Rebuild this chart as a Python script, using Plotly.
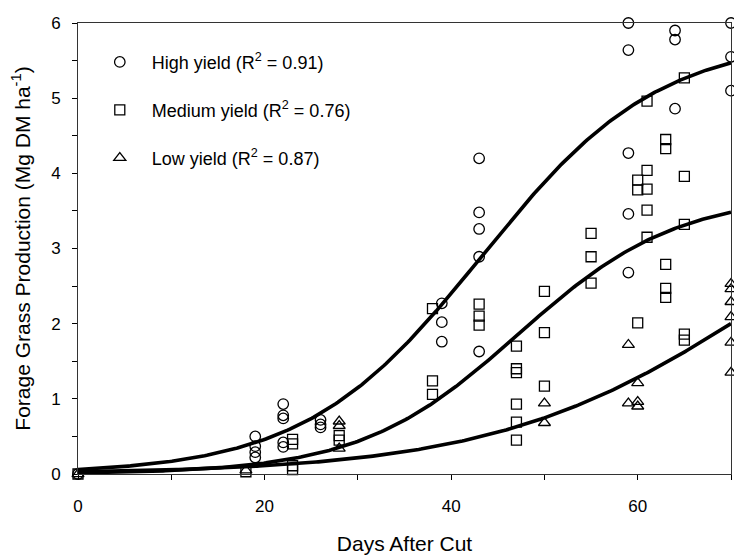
import numpy as np
import plotly.graph_objects as go

# Observed forage production (Mg DM/ha) by days after cut
days_high = [0, 19, 19, 19, 19, 22, 22, 22, 22, 22, 26, 26, 26, 39, 39, 39,
             43, 43, 43, 43, 43, 59, 59, 59, 59, 59, 64, 64, 64, 70, 70, 70]
prod_high = [0, 0.50, 0.37, 0.29, 0.22, 0.93, 0.78, 0.74, 0.42, 0.36, 0.72, 0.66, 0.62,
             2.27, 2.02, 1.76, 4.20, 3.48, 3.26, 2.89, 1.63, 6.00, 5.64, 4.27, 3.46, 2.68,
             5.90, 5.78, 4.86, 6.00, 5.55, 5.10]

days_med = [0, 18, 23, 23, 23, 23, 28, 28, 38, 38, 38, 43, 43, 43, 47, 47, 47, 47, 47, 47,
            50, 50, 50, 55, 55, 55, 60, 60, 60, 61, 61, 61, 61, 61, 63, 63, 63, 63, 63,
            65, 65, 65, 65, 65]
prod_med = [0, 0.03, 0.46, 0.40, 0.11, 0.06, 0.51, 0.45, 2.20, 1.24, 1.06, 2.26, 2.10, 1.98,
            1.70, 1.40, 1.35, 0.93, 0.69, 0.45, 2.43, 1.88, 1.17, 3.20, 2.89, 2.54,
            3.91, 3.78, 2.01, 4.96, 4.04, 3.79, 3.51, 3.15, 4.45, 4.33, 2.79, 2.47, 2.35,
            5.27, 3.96, 3.32, 1.86, 1.78]

days_low = [0, 18, 28, 28, 28, 50, 50, 59, 59, 60, 60, 60, 70, 70, 70, 70, 70, 70]
prod_low = [0, 0.05, 0.70, 0.64, 0.34, 0.94, 0.68, 1.72, 0.94, 1.21, 0.96, 0.90,
            2.53, 2.46, 2.29, 2.09, 1.75, 1.35]

# Fitted logistic models: y = a / (1 + exp(-(x - x0) / b))
fit_high = dict(a=5.8, x0=43.3, b=9.5)
fit_med = dict(a=3.72, x0=47.2, b=8.5)
fit_low = dict(a=4.6, x0=73.8, b=14.5)

series_names = ["High yield (R<sup>2</sup> = 0.91)",
                "Medium yield (R<sup>2</sup> = 0.76)",
                "Low yield (R<sup>2</sup> = 0.87)"]
symbols = ["circle-open", "square-open", "triangle-up-open"]
marker_sizes = [10.5, 10, 10.5]


def logistic(x, a, x0, b):
    return a / (1.0 + np.exp(-(x - x0) / b))


x_fit = np.linspace(0, 70, 300)
FONT = "Arial, Liberation Sans, Helvetica, sans-serif"

fig = go.Figure()

for p in (fit_high, fit_med, fit_low):
    fig.add_trace(go.Scatter(
        x=x_fit, y=logistic(x_fit, **p), mode="lines",
        line=dict(color="black", width=3.6), showlegend=False,
        hoverinfo="skip", cliponaxis=False))

groups = [(days_high, prod_high), (days_med, prod_med), (days_low, prod_low)]
for i, (xs, ys) in enumerate(groups):
    fig.add_trace(go.Scatter(
        x=xs, y=ys, mode="markers", name=series_names[i],
        legendgroup=f"g{i}", cliponaxis=False,
        marker=dict(symbol=symbols[i], size=marker_sizes[i], color="black",
                    line=dict(color="black", width=1.3))))

fig.update_layout(
    width=734, height=555,
    margin=dict(l=78, r=2, t=23, b=76),
    paper_bgcolor="white", plot_bgcolor="white",
    font=dict(family=FONT, color="black", size=17),
    showlegend=True,
    legend=dict(
        x=0.015, y=0.954, xanchor="left", yanchor="top",
        bgcolor="rgba(0,0,0,0)", font=dict(family=FONT, size=18),
        itemwidth=54, tracegroupgap=21.5, itemclick=False),
)

fig.update_xaxes(
    range=[0, 70], tickvals=[0, 20, 40, 60], ticks="outside", ticklen=5,
    tickcolor="black", showline=True, linecolor="#333", linewidth=1, mirror=True,
    showgrid=False, zeroline=False, ticklabelstandoff=12,
    minor=dict(tickvals=[10, 30, 50, 70], ticks="outside", ticklen=5, tickcolor="black"),
    title=dict(text="Days After Cut", font=dict(size=21, family=FONT), standoff=22),
)
fig.update_yaxes(
    range=[0, 6], tickvals=[0, 1, 2, 3, 4, 5, 6], ticks="outside", ticklen=5,
    tickcolor="black", showline=True, linecolor="#333", linewidth=1, mirror=True,
    showgrid=False, zeroline=False, ticklabelstandoff=8,
    minor=dict(tickvals=[0.5, 1.5, 2.5, 3.5, 4.5, 5.5], ticks="outside", ticklen=5,
               tickcolor="black"),
    title=dict(text="Forage Grass Production (Mg DM ha<sup>-1</sup>)",
               font=dict(size=21, family=FONT), standoff=14),
)

fig.write_html("out.html")
